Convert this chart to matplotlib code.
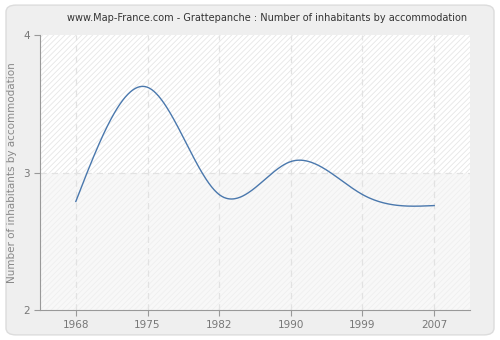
import numpy as np
import matplotlib
matplotlib.use('Agg')
from matplotlib import pyplot as plt
from matplotlib.patches import FancyBboxPatch

years = ['1968', '1975', '1982', '1990', '1999', '2007']
values = [2.79, 3.62, 2.84, 3.08, 2.84, 2.76]
title = 'www.Map-France.com - Grattepanche : Number of inhabitants by accommodation'
ylabel = 'Number of inhabitants by accommodation'


def natural_spline(x, y, n=400):
    # natural cubic spline, only used to draw a smooth line through the points
    x = np.asarray(x, float)
    y = np.asarray(y, float)
    k = len(x)
    h = np.diff(x)
    A = np.zeros((k, k))
    r = np.zeros(k)
    A[0, 0] = A[-1, -1] = 1
    for i in range(1, k - 1):
        A[i, i - 1] = h[i - 1]
        A[i, i] = 2 * (h[i - 1] + h[i])
        A[i, i + 1] = h[i]
        r[i] = 3 * ((y[i + 1] - y[i]) / h[i] - (y[i] - y[i - 1]) / h[i - 1])
    c = np.linalg.solve(A, r)
    xs = np.linspace(x[0], x[-1], n)
    idx = np.clip(np.searchsorted(x, xs) - 1, 0, k - 2)
    b = (y[1:] - y[:-1]) / h - h * (2 * c[:-1] + c[1:]) / 3
    d = (c[1:] - c[:-1]) / (3 * h)
    t = xs - x[idx]
    ys = y[idx] + b[idx] * t + c[idx] * t**2 + d[idx] * t**3
    return xs, ys


plt.rcParams['hatch.linewidth'] = 0.6

fig = plt.figure(figsize=(5, 3.4), dpi=100)
fig.patch.set_facecolor('white')
bg = FancyBboxPatch((0.012, 0.015), 0.976, 0.97, boxstyle='round,pad=0,rounding_size=0.02',
                    transform=fig.transFigure, facecolor='#efefef', edgecolor='#dcdcdc', lw=1,
                    zorder=-10)
fig.add_artist(bg)

ax = fig.add_axes([0.08, 0.088, 0.86, 0.809])
ax.set_zorder(1)
ax.set_facecolor('#fafafa')
pos = np.arange(len(years))

ax.axhspan(3, 4, facecolor='white', edgecolor='#e6e6e6', hatch='//////', lw=0, zorder=0)
ax.axhspan(2, 3, facecolor='#f8f8f8', edgecolor='#efefef', hatch='//////', lw=0, zorder=0)

for p in pos:
    ax.axvline(p, color='#e2e2e2', lw=0.9, ls=(0, (5, 4)), zorder=1)
ax.axhline(3, color='#e2e2e2', lw=0.9, ls=(0, (5, 4)), zorder=1)

xs, ys = natural_spline(pos, values)
ax.plot(xs, ys, color='#4a78ad', lw=1.0, zorder=3)

ax.set_xlim(-0.5, 5.5)
ax.set_ylim(2, 4)
ax.set_xticks(pos)
ax.set_xticklabels(years)
ax.set_yticks([2, 3, 4])
for s in ['top', 'right']:
    ax.spines[s].set_visible(False)
for s in ['left', 'bottom']:
    ax.spines[s].set_color('#999999')
ax.tick_params(colors='#999999', labelcolor='#777777', labelsize=7.5, length=4, width=0.8)
ax.set_ylabel(ylabel, color='#888888', fontsize=7.5)
fig.text(0.535, 0.947, title, ha='center', va='center', fontsize=7.0, color='#333333')

fig.savefig('out.png', dpi=100)
